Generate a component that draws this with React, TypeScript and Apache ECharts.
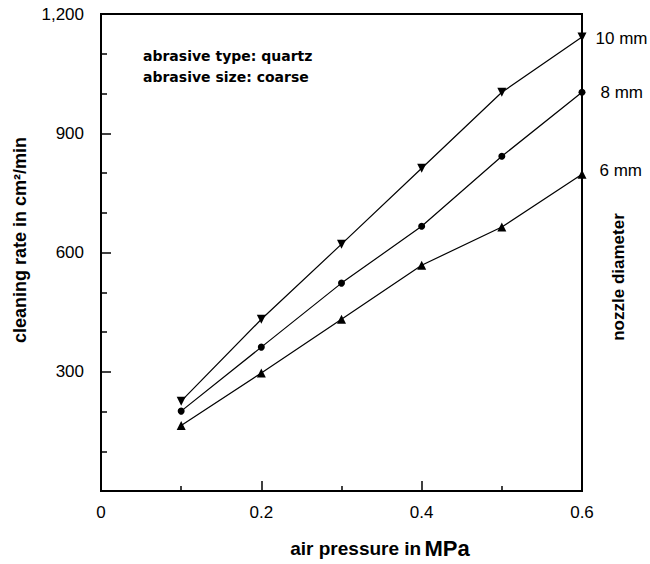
import React, { useEffect, useRef } from "react";
import * as echarts from "echarts";

const pressures = [0.1, 0.2, 0.3, 0.4, 0.5, 0.6];
const nozzle10 = [226, 432, 621, 812, 1003, 1142];
const nozzle8 = [201, 362, 523, 666, 842, 1003];
const nozzle6 = [165, 297, 432, 568, 664, 797];
const seriesNames = ["10 mm", "8 mm", "6 mm"];
const annotations = ["abrasive type: quartz", "abrasive size: coarse"];

const FONT = "'Liberation Sans', Arial, sans-serif";

function pairs(vals: number[]) {
  return pressures.map((p, i) => [p, vals[i]]);
}

export default function App() {
  const ref = useRef<HTMLDivElement>(null);
  useEffect(() => {
    document.body.style.margin = "0";
    if (!ref.current) return;
    const chart = echarts.init(ref.current, null, { renderer: "svg" });
    const mk = (
      name: string,
      vals: number[],
      symbol: string,
      rotate: number,
      labelOffset: number[]
    ) => {
      const d: any[] = pairs(vals);
      const last = d.length - 1;
      d[last] = {
        value: d[last],
        label: {
          show: true,
          position: "right",
          distance: 0,
          offset: labelOffset,
          formatter: name,
          color: "#000",
          fontFamily: FONT,
          fontSize: 17,
        },
      };
      return {
        name,
        type: "line",
        data: d,
        symbol,
        symbolSize: symbol === "circle" ? 7 : 9,
        symbolRotate: rotate,
        showAllSymbol: true,
        lineStyle: { color: "#000", width: 1.2 },
        itemStyle: { color: "#000" },
        clip: false,
        z: 3,
      };
    };
    chart.setOption({
      animation: false,
      backgroundColor: "#fff",
      grid: {
        left: 101,
        right: 68,
        top: 14,
        bottom: 73,
        containLabel: false,
        outerBoundsMode: "none",
        show: true,
        borderColor: "#000",
        borderWidth: 2,
        backgroundColor: "transparent",
      },
      xAxis: {
        type: "value",
        min: 0,
        max: 0.6,
        interval: 0.2,
        axisLine: { show: true, lineStyle: { color: "#000", width: 2 } },
        axisTick: { show: true, inside: true, length: 10, lineStyle: { color: "#000", width: 1.5 } },
        minorTick: { show: true, splitNumber: 2, length: 5, lineStyle: { color: "#000", width: 1.5 } },
        splitLine: { show: false },
        axisLabel: {
          color: "#000",
          fontFamily: FONT,
          fontSize: 17,
          margin: 13,
          formatter: (v: number) => (v === 0 ? "0" : String(Math.round(v * 10) / 10)),
        },
      },
      yAxis: {
        type: "value",
        min: 0,
        max: 1200,
        interval: 300,
        axisLine: { show: true, lineStyle: { color: "#000", width: 2 } },
        axisTick: { show: true, inside: true, length: 10, lineStyle: { color: "#000", width: 1.5 } },
        minorTick: { show: true, splitNumber: 3, length: 6, lineStyle: { color: "#000", width: 1.5 } },
        splitLine: { show: false },
        axisLabel: {
          color: "#000",
          fontFamily: FONT,
          fontSize: 17,
          margin: 17,
          formatter: (v: number) => (v === 0 ? "" : v.toLocaleString("en-US")),
        },
      },
      series: [
        mk(seriesNames[0], nozzle10, "triangle", 180, [9, 1]),
        mk(seriesNames[1], nozzle8, "circle", 0, [15, 0]),
        mk(seriesNames[2], nozzle6, "triangle", 0, [13, -4]),
      ],
      graphic: [
        {
          type: "text",
          x: 20,
          y: 240,
          rotation: Math.PI / 2,
          style: {
            text: "cleaning rate in cm²/min",
            align: "center",
            verticalAlign: "middle",
            fill: "#000",
            font: `bold 18px ${FONT}`,
          },
        },
        {
          type: "text",
          left: 143,
          top: 45,
          style: {
            text: annotations.join("\n"),
            fill: "#000",
            font: "bold 14px 'DejaVu Sans', Verdana, sans-serif",
            lineHeight: 21,
          },
        },
        {
          type: "text",
          x: 380,
          y: 548,
          style: {
            text: "{a|air pressure in} {b|MPa}",
            align: "center",
            verticalAlign: "middle",
            rich: {
              a: { fill: "#000", fontFamily: FONT, fontWeight: "bold", fontSize: 19 },
              b: { fill: "#000", fontFamily: FONT, fontWeight: "bold", fontSize: 22 },
            },
          },
        },
        {
          type: "text",
          x: 618,
          y: 277,
          rotation: Math.PI / 2,
          style: {
            text: "nozzle diameter",
            align: "center",
            verticalAlign: "middle",
            fill: "#000",
            font: `bold 17px ${FONT}`,
          },
        },
      ],
    });
    return () => chart.dispose();
  }, []);
  return <div ref={ref} style={{ width: 650, height: 564 }} />;
}
